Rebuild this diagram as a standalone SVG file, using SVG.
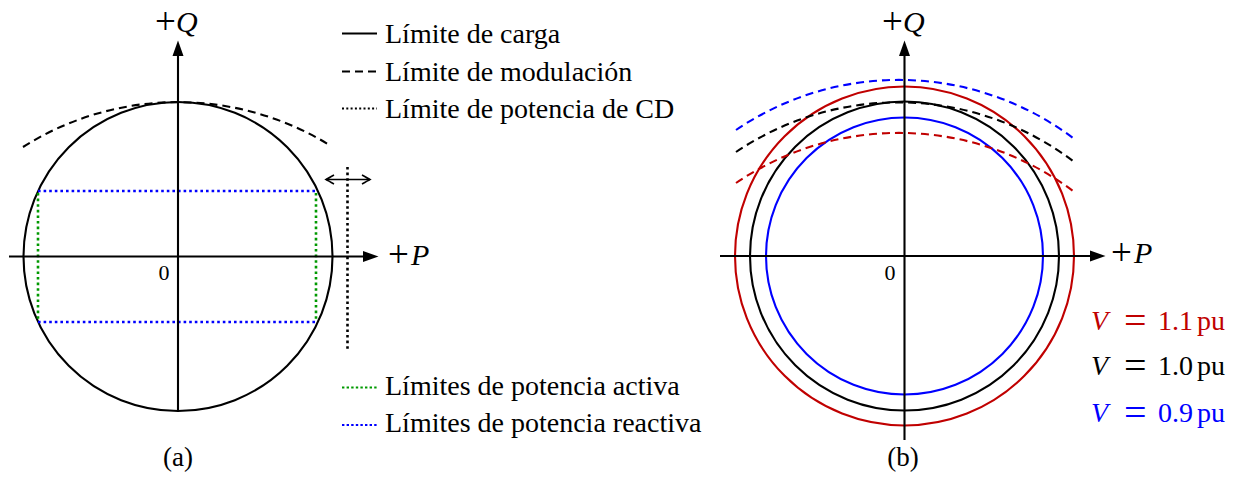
<svg xmlns="http://www.w3.org/2000/svg" width="1240" height="478" viewBox="0 0 1240 478">
<style>
text{font-family:"Liberation Serif","Times New Roman",serif;fill:#000}
.lg{font-size:28px}
.ax{font-size:30px}
.pl{font-size:37px}
.eq{font-size:40px}
.it{font-style:italic}
.k{stroke:#000;stroke-width:2.1;fill:none}
.r{stroke:#c00000;stroke-width:2.1;fill:none}
.b{stroke:#0000ff;stroke-width:2.1;fill:none}
.dash{stroke-dasharray:8 5}
.dot{stroke-width:2.6;stroke-dasharray:2.6 3}
.g{stroke:#009900}
.bl{stroke:#0000ff}
.vl{font-size:28px}
.red{fill:#c00000}
.blu{fill:#0000ff}
</style>
<defs>
<marker id="arr" markerUnits="userSpaceOnUse" markerWidth="18" markerHeight="14" viewBox="0 -7 18 14" refX="2" refY="0" orient="auto">
<path d="M0,-5.5 L15.5,0 L0,5.5 Z" fill="#000"/>
</marker>
<marker id="to" markerUnits="userSpaceOnUse" markerWidth="12" markerHeight="12" viewBox="-10 -6 12 12" refX="0" refY="0" orient="auto-start-reverse">
<path d="M-8,-4.5 Q-2,-1 0,0 Q-2,1 -8,4.5" fill="none" stroke="#000" stroke-width="1.5"/>
</marker>
</defs>
<rect width="1240" height="478" fill="#fff"/>

<g id="diagram-a">
<g id="load-limit-a"><circle class="k" cx="178" cy="256.5" r="154.5"/></g>
<g id="modulation-limit-a"><path class="k dash" d="M23,147 A289.4,289.4 0 0 1 331,146"/></g>
<g id="reactive-limits-a">
<line class="k dot bl" x1="38" y1="191" x2="317" y2="191"/>
<line class="k dot bl" x1="38" y1="322" x2="317" y2="322"/>
</g>
<g id="active-limits-a">
<line class="k dot g" x1="38" y1="193" x2="38" y2="320"/>
<line class="k dot g" x1="316" y1="193" x2="316" y2="320"/>
</g>
<g id="dc-limit-a"><line class="k dot" x1="347.5" y1="167" x2="347.5" y2="350"/></g>
<g id="connectors-a">
<line class="k" x1="178" y1="412" x2="178" y2="54" marker-end="url(#arr)"/>
<line class="k" x1="9" y1="256.5" x2="365" y2="256.5" marker-end="url(#arr)"/>
<line x1="326" y1="179.5" x2="370" y2="179.5" stroke="#000" stroke-width="1.5" marker-start="url(#to)" marker-end="url(#to)"/>
</g>
<g id="labels-a">
<text class="ax"><tspan class="pl" x="155" y="34">+</tspan><tspan class="it" x="176" y="32">Q</tspan></text>
<text class="ax"><tspan class="pl" x="388" y="267">+</tspan><tspan class="it" x="411" y="265">P</tspan></text>
<text x="164" y="280" font-size="22" text-anchor="middle">0</text>
<text x="178" y="466" font-size="27" text-anchor="middle">(a)</text>
</g>
</g>

<g id="legend-a">
<line class="k" x1="342" y1="33.5" x2="377" y2="33.5"/>
<text class="lg" x="385" y="43">Límite de carga</text>
<line class="k dash" x1="342" y1="71.5" x2="377" y2="71.5"/>
<text class="lg" x="385" y="81">Límite de modulación</text>
<line class="k" x1="342" y1="108.5" x2="377" y2="108.5" stroke-dasharray="2 2.3"/>
<text class="lg" x="385" y="118">Límite de potencia de CD</text>
<line class="k g" x1="342" y1="387.5" x2="377" y2="387.5" stroke-width="2.4" stroke-dasharray="2.4 2.2"/>
<text class="lg" x="385" y="395">Límites de potencia activa</text>
<line class="k bl" x1="342" y1="425" x2="377" y2="425" stroke-width="2.4" stroke-dasharray="2.4 2.2"/>
<text class="lg" x="385" y="431.5">Límites de potencia reactiva</text>
</g>

<g id="diagram-b">
<g id="circle-11"><circle class="r" cx="904.5" cy="256" r="169.5"/></g>
<g id="circle-10"><circle class="k" cx="904.5" cy="256" r="154.5"/></g>
<g id="circle-09"><circle class="b" cx="904.5" cy="256" r="138.5"/></g>
<g id="mod-09"><path class="b dash" d="M736,130 A290,290 0 0 1 1073,138"/></g>
<g id="mod-10"><path class="k dash" d="M736,152 A290,290 0 0 1 1073,161"/></g>
<g id="mod-11"><path class="r dash" d="M736,183 A290,290 0 0 1 1073,191"/></g>
<g id="connectors-b">
<line class="k" x1="904.5" y1="440" x2="904.5" y2="54" marker-end="url(#arr)"/>
<line class="k" x1="720" y1="256" x2="1092" y2="256" marker-end="url(#arr)"/>
</g>
<g id="labels-b">
<text class="ax"><tspan class="pl" x="882" y="34">+</tspan><tspan class="it" x="903" y="32">Q</tspan></text>
<text class="ax"><tspan class="pl" x="1111" y="265">+</tspan><tspan class="it" x="1134" y="263">P</tspan></text>
<text x="890" y="280" font-size="22" text-anchor="middle">0</text>
<text x="903" y="466" font-size="27" text-anchor="middle">(b)</text>
</g>
<g id="legend-b">
<text class="vl red"><tspan class="it" x="1091" y="330">V</tspan><tspan class="eq" x="1124" y="334">=</tspan><tspan x="1158" y="330">1.1</tspan><tspan x="1197" y="330">pu</tspan></text>
<text class="vl"><tspan class="it" x="1091" y="375">V</tspan><tspan class="eq" x="1124" y="379">=</tspan><tspan x="1158" y="375">1.0</tspan><tspan x="1197" y="375">pu</tspan></text>
<text class="vl blu"><tspan class="it" x="1091" y="421.5">V</tspan><tspan class="eq" x="1124" y="425.5">=</tspan><tspan x="1158" y="421.5">0.9</tspan><tspan x="1197" y="421.5">pu</tspan></text>
</g>
</g>
</svg>
